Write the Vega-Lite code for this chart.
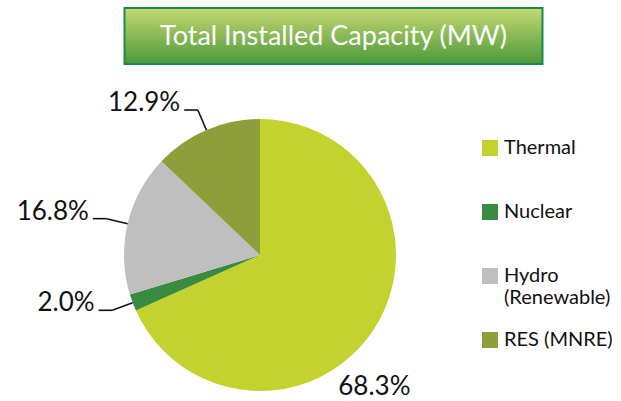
{
  "$schema": "https://vega.github.io/schema/vega-lite/v6.json",
  "background": "white",
  "padding": {"left": 0, "top": 7, "right": 0, "bottom": 0},
  "config": {"view": {"stroke": null}, "font": "Lato"},
  "spacing": 20,
  "center": true,
  "vconcat": [
    {
      "width": 418,
      "height": 56,
      "data": {"values": [{"t": "Total Installed Capacity (MW)"}]},
      "layer": [
        {
          "mark": {
            "type": "rect",
            "stroke": "#1a8a4a",
            "strokeWidth": 2,
            "fill": {
              "gradient": "linear",
              "x1": 0, "y1": 0, "x2": 0, "y2": 1,
              "stops": [
                {"offset": 0, "color": "#c5d871"},
                {"offset": 1, "color": "#4c993b"}
              ]
            }
          },
          "encoding": {}
        },
        {
          "mark": {"type": "text", "font": "Lato", "fontSize": 27, "color": "white", "align": "center", "baseline": "middle", "dy": 1},
          "encoding": {"text": {"field": "t"}}
        }
      ]
    },
    {
      "width": 668,
      "height": 340,
      "data": {
        "values": [
          {"category": "Thermal", "value": 68.3},
          {"category": "Nuclear", "value": 2.0},
          {"category": "Hydro (Renewable)", "value": 16.8},
          {"category": "RES (MNRE)", "value": 12.9}
        ]
      },
      "transform": [
        {"window": [{"op": "row_number", "as": "i"}, {"op": "sum", "field": "value", "as": "cum"}], "frame": [null, 0]},
        {"joinaggregate": [{"op": "sum", "field": "value", "as": "total"}]},
        {"calculate": "2*PI*(datum.cum - datum.value/2)/datum.total", "as": "mid"},
        {"calculate": "sin(datum.mid)", "as": "ux"},
        {"calculate": "cos(datum.mid)", "as": "uy"},
        {"calculate": "datum.ux*1.16", "as": "ex"},
        {"calculate": "datum.uy*1.16", "as": "ey"},
        {"calculate": "datum.ex - 0.1", "as": "hx"},
        {"calculate": "format(datum.value, '.1f') + '%'", "as": "label"}
      ],
      "layer": [
        {
          "mark": {"type": "arc", "radius": 136},
          "encoding": {
            "x": {"datum": 0, "type": "quantitative", "scale": {"domain": [-1.9118, 3.0], "nice": false, "zero": false}, "axis": null},
            "y": {"datum": 0, "type": "quantitative", "scale": {"domain": [-1.25, 1.25], "nice": false, "zero": false}, "axis": null},
            "theta": {"field": "value", "type": "quantitative", "stack": true},
            "order": {"field": "i", "type": "quantitative"},
            "color": {
              "field": "category",
              "type": "nominal",
              "scale": {
                "domain": ["Thermal", "Nuclear", "Hydro (Renewable)", "RES (MNRE)"],
                "range": ["#c4d22f", "#3b8a41", "#bfbfbf", "#8e9e3b"]
              },
              "legend": {
                "orient": "none",
                "legendX": 480,
                "legendY": 130,
                "title": null,
                "symbolType": "square",
                "symbolSize": 256,
                "symbolStrokeWidth": 0,
                "symbolOpacity": 1,
                "labelFont": "Lato",
                "labelFontSize": 20,
                "labelColor": "#111111",
                "labelOffset": 4,
                "labelLimit": 300,
                "rowPadding": 22,
                "padding": 0,
                "gridAlign": "all",
                "labelBaseline": "middle",
                "labelExpr": "datum.label == 'Hydro (Renewable)' ? ['Hydro', '(Renewable)'] : datum.label"
              }
            }
          }
        },
        {
          "transform": [{"filter": "datum.category != 'Thermal'"}],
          "mark": {"type": "rule", "color": "#111111", "strokeWidth": 1.6},
          "encoding": {
            "x": {"field": "ux", "type": "quantitative", "scale": {"domain": [-1.9118, 3.0], "nice": false, "zero": false}, "axis": null},
            "y": {"field": "uy", "type": "quantitative", "scale": {"domain": [-1.25, 1.25], "nice": false, "zero": false}, "axis": null},
            "x2": {"field": "ex"},
            "y2": {"field": "ey"}
          }
        },
        {
          "transform": [{"filter": "datum.category != 'Thermal'"}],
          "mark": {"type": "rule", "color": "#111111", "strokeWidth": 1.6},
          "encoding": {
            "x": {"field": "ex", "type": "quantitative", "scale": {"domain": [-1.9118, 3.0], "nice": false, "zero": false}, "axis": null},
            "y": {"field": "ey", "type": "quantitative", "scale": {"domain": [-1.25, 1.25], "nice": false, "zero": false}, "axis": null},
            "x2": {"field": "hx"},
            "y2": {"field": "ey"}
          }
        },
        {
          "transform": [{"filter": "datum.category != 'Thermal'"}],
          "mark": {"type": "text", "font": "Lato", "fontSize": 26, "color": "#111111", "align": "right", "baseline": "alphabetic", "dx": -4, "dy": 1},
          "encoding": {
            "x": {"field": "hx", "type": "quantitative", "scale": {"domain": [-1.9118, 3.0], "nice": false, "zero": false}, "axis": null},
            "y": {"field": "ey", "type": "quantitative", "scale": {"domain": [-1.25, 1.25], "nice": false, "zero": false}, "axis": null},
            "text": {"field": "label"}
          }
        },
        {
          "transform": [{"filter": "datum.category == 'Thermal'"}],
          "mark": {"type": "text", "font": "Lato", "fontSize": 26, "color": "#111111", "align": "center", "baseline": "middle", "dx": -18, "dy": 46},
          "encoding": {
            "x": {"field": "ex", "type": "quantitative", "scale": {"domain": [-1.9118, 3.0], "nice": false, "zero": false}, "axis": null},
            "y": {"field": "ey", "type": "quantitative", "scale": {"domain": [-1.25, 1.25], "nice": false, "zero": false}, "axis": null},
            "text": {"field": "label"}
          }
        }
      ]
    }
  ]
}
